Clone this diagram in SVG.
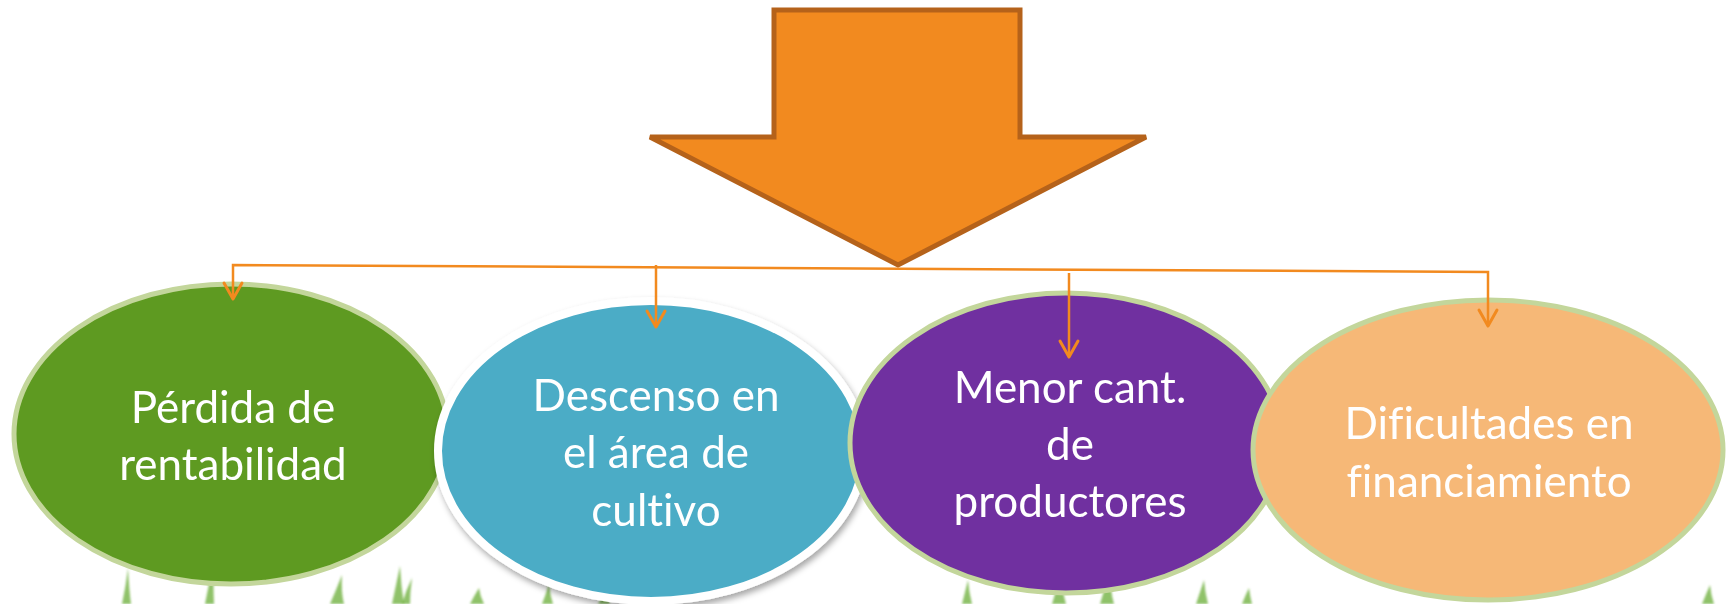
<svg xmlns="http://www.w3.org/2000/svg" width="1729" height="604" viewBox="0 0 1729 604">
<defs>
<style>
.lbl{font-family:Lato,"Open Sans","Liberation Sans",sans-serif;font-size:44px;fill:#ffffff;text-anchor:middle;font-variant-ligatures:none;font-feature-settings:"liga" 0,"clig" 0}
.conn{stroke:#F28A1F;stroke-width:2.5;fill:none}
.head{stroke:#F28A1F;stroke-width:3;fill:none;stroke-linecap:round;stroke-linejoin:round}
.node{stroke:#C3D69B;stroke-width:5}
.blade{fill:#5FA82A;opacity:0.7}
</style>
<filter id="sh" x="-10%" y="-10%" width="120%" height="125%">
<feDropShadow dx="2" dy="4" stdDeviation="3" flood-color="#000" flood-opacity="0.35"/>
</filter>
<filter id="blur"><feGaussianBlur stdDeviation="1.2"/></filter>
</defs>
<rect width="1729" height="604" fill="#ffffff"/>
<g id="grass" filter="url(#blur)">
<path class="blade" d="M122 604 Q126 585 128 568 Q129 588 131 604Z"/>
<path class="blade" d="M205 604 Q210 580 214 556 Q213 582 214 604Z"/>
<path class="blade" d="M330 604 Q336 590 342 575 Q341 592 344 604Z"/>
<path class="blade" d="M392 604 Q396 585 400 566 Q401 586 404 604Z"/>
<path class="blade" d="M402 604 Q406 590 412 578 Q410 592 410 604Z"/>
<path class="blade" d="M470 604 Q474 596 479 588 Q480 596 484 604Z"/>
<path class="blade" d="M542 604 Q546 594 549 584 Q550 595 553 604Z"/>
<path class="blade" d="M598 604 Q602 597 607 590 Q607 598 610 604Z"/>
<path class="blade" d="M962 604 Q965 592 968 580 Q969 592 972 604Z"/>
<path class="blade" d="M1052 604 Q1057 588 1061 572 Q1062 590 1066 604Z"/>
<path class="blade" d="M1100 604 Q1105 588 1110 570 Q1110 590 1114 604Z"/>
<path class="blade" d="M1196 604 Q1200 592 1204 580 Q1205 592 1208 604Z"/>
<path class="blade" d="M1242 604 Q1245 596 1249 588 Q1250 596 1252 604Z"/>
<path class="blade" d="M1702 604 Q1706 594 1710 585 Q1711 595 1714 604Z"/>
</g>
<g id="big-arrow">
<polygon points="774,10 1020,10 1020,137 1146,137 898,265 650,137 774,137" fill="#F28A1F" stroke="#B5621A" stroke-width="5" stroke-linejoin="miter"/>
</g>
<g id="node-perdida">
<ellipse class="node" cx="231" cy="434" rx="217" ry="150" fill="#5E9A21"/>
<text class="lbl" x="233" y="423">Pérdida de</text>
<text class="lbl" x="233" y="480">rentabilidad</text>
</g>
<g id="node-descenso">
<ellipse cx="651" cy="451" rx="213" ry="150" fill="#4BACC6" stroke="#ffffff" stroke-width="8" filter="url(#sh)"/>
<text class="lbl" x="656" y="411">Descenso en</text>
<text class="lbl" x="656" y="468">el área de</text>
<text class="lbl" x="656" y="526">cultivo</text>
</g>
<g id="node-menor">
<ellipse class="node" cx="1066" cy="443" rx="216" ry="150" fill="#7030A0"/>
<text class="lbl" x="1070" y="403">Menor cant.</text>
<text class="lbl" x="1070" y="460">de</text>
<text class="lbl" x="1070" y="517">productores</text>
</g>
<g id="node-dificultades">
<ellipse class="node" cx="1488" cy="450" rx="235" ry="150" fill="#F6B877"/>
<text class="lbl" x="1489" y="439">Dificultades en</text>
<text class="lbl" x="1489" y="497">financiamiento</text>
</g>
<g id="connectors">
<path class="conn" d="M233 299 L233 265 L1488 272 L1488 326"/>
<path class="conn" d="M656 265 L656 327"/>
<path class="conn" d="M1069 273 L1069 357"/>
<path class="head" d="M224 283 L233 299 L242 283"/>
<path class="head" d="M647 311 L656 327 L665 311"/>
<path class="head" d="M1060 341 L1069 357 L1078 341"/>
<path class="head" d="M1479 310 L1488 326 L1497 310"/>
</g>
</svg>
